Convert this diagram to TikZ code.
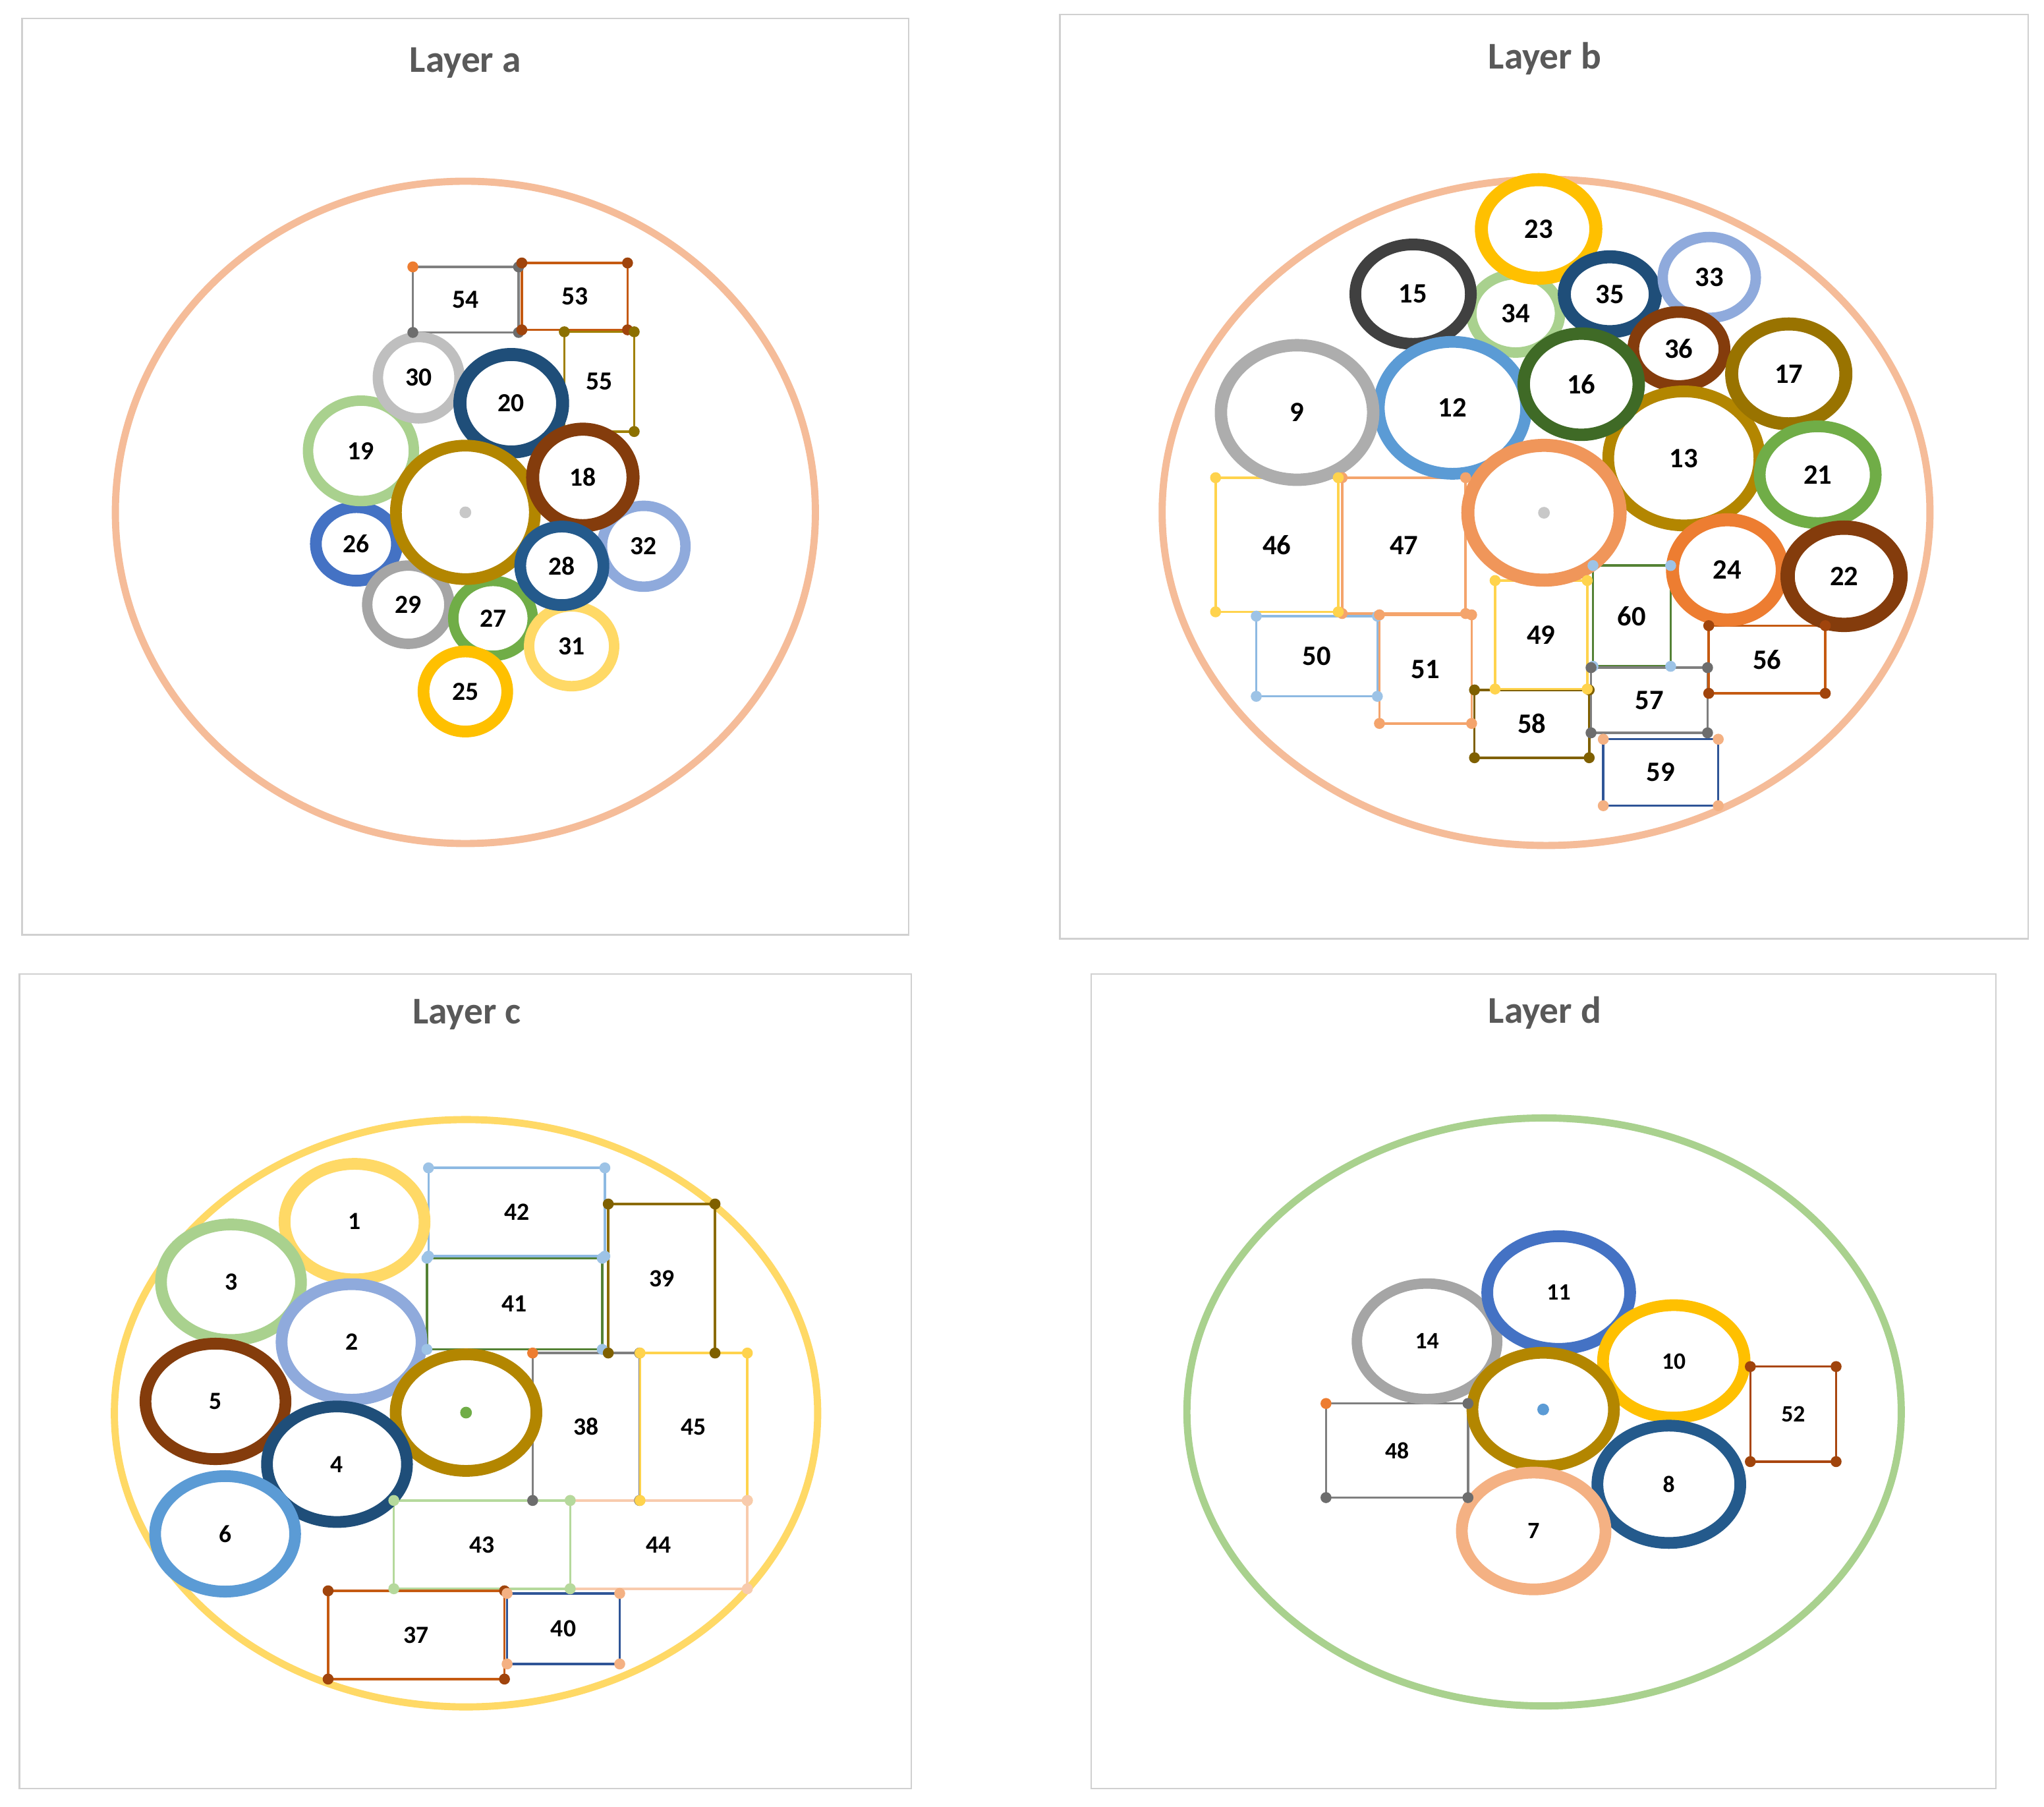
\documentclass[tikz,border=0pt]{standalone}
\usepackage{fontspec}
\setmainfont{Carlito}
\usetikzlibrary{shapes.geometric}
\definecolor{peach}{HTML}{F4B183}
\definecolor{bigpeach}{HTML}{F5BC99}
\definecolor{lpeach}{HTML}{F8CBAD}
\definecolor{goldc}{HTML}{B38600}
\definecolor{dgold}{HTML}{997300}
\definecolor{dgoldb}{HTML}{7F6000}
\definecolor{dblue}{HTML}{1F4E79}
\definecolor{dbluec}{HTML}{245A8C}
\definecolor{brownc}{HTML}{843C0C}
\definecolor{lgreen}{HTML}{A9D18E}
\definecolor{bluec}{HTML}{4472C4}
\definecolor{lblue}{HTML}{8FAADC}
\definecolor{grayc}{HTML}{A5A5A5}
\definecolor{grayb}{HTML}{ADADAD}
\definecolor{lgray}{HTML}{BFBFBF}
\definecolor{greenc}{HTML}{70AD47}
\definecolor{lyellow}{HTML}{FFD966}
\definecolor{yellowc}{HTML}{FFC000}
\definecolor{dgray}{HTML}{404040}
\definecolor{mblue}{HTML}{5B9BD5}
\definecolor{dgreen}{HTML}{3F6A26}
\definecolor{orangec}{HTML}{ED7D31}
\definecolor{corange}{HTML}{F0965A}
\definecolor{rgray}{HTML}{7F7F7F}
\definecolor{dotgray}{HTML}{6D6D6D}
\definecolor{rbrown}{HTML}{C55A11}
\definecolor{dotbrown}{HTML}{A0440C}
\definecolor{ryellow}{HTML}{FFD34D}
\definecolor{rpeach}{HTML}{F4A46C}
\definecolor{rlblue}{HTML}{8DB9E2}
\definecolor{dotlblue}{HTML}{9DC3E6}
\definecolor{rdgreen}{HTML}{548235}
\definecolor{rnavy}{HTML}{2F5597}
\definecolor{rgold}{HTML}{A08000}
\definecolor{dotgold}{HTML}{8C7000}
\definecolor{rgoldb}{HTML}{8B6B00}
\definecolor{rlgreen}{HTML}{B5D99C}
\definecolor{rbrownb}{HTML}{A9460F}
\definecolor{titlegray}{HTML}{595959}
\definecolor{framegray}{HTML}{D0D0D0}
\definecolor{cdot}{HTML}{C8C8C8}
\tikzset{
  ringnode/.style={ellipse, inner sep=0pt, outer sep=0pt, fill=white},
  rectnode/.style={rectangle, inner sep=0pt, outer sep=0pt, line width=1.8pt},
  bigring/.style={ellipse, inner sep=0pt, outer sep=0pt, line width=5.5pt},
  paneltitle/.style={text=titlegray, font=\fontsize{29}{34}\selectfont\bfseries},
  panelframe/.style={draw=framegray, line width=1.2pt},
}
\newcommand\myring[8]{\node[ringnode, draw=#7, line width=#6pt, minimum width={2*#4pt}, minimum height={2*#5pt}] (#1) at (#2,#3) {#8};}
\newcommand\myrect[7]{\node[rectnode, draw=#6, minimum width={(#4-#2)*1pt}, minimum height={(#5-#3)*1pt}] (#1) at ({(#2+#4)/2},{(#3+#5)/2}) {#7};}
\newcommand\mydot[2]{\fill[#2] (#1) circle[radius=4.2pt];}
\newcommand\mydots[5]{\mydot{#1.north west}{#2}\mydot{#1.north east}{#3}\mydot{#1.south east}{#4}\mydot{#1.south west}{#5}}
\begin{document}
\begin{tikzpicture}[x=1pt,y=-1pt]
\fill[white] (0,0) rectangle (1568,1386);
\useasboundingbox (0,0) rectangle (1568,1386);
% frames
\draw[panelframe] (17,14) rectangle (697,717);
\draw[panelframe] (813,11) rectangle (1556,720);
\draw[panelframe] (15,747) rectangle (699,1372);
\draw[panelframe] (837,747) rectangle (1531,1372);
% titles
\node[paneltitle] (ta) at (357,48) {Layer a};
\node[paneltitle] (tb) at (1185,45) {Layer b};
\node[paneltitle] (tc) at (358,778) {Layer c};
\node[paneltitle] (td) at (1185,777) {Layer d};

% ================= Layer a
\begin{scope}[every node/.append style={font=\fontsize{20}{24}\selectfont\bfseries}]
\node[bigring, draw=bigpeach, minimum width=537pt, minimum height=508pt] (ea) at (357,393) {};
\myrect{r54}{316.7}{204.7}{397.8}{255.0}{rgray}{54}
\myrect{r53}{400.3}{201.7}{481.4}{253.0}{rbrown}{53}
\myrect{r55}{432.9}{254.5}{486.5}{331.0}{rgold}{55}
\myring{c26}{273.4}{417.2}{31.1}{28.2}{9}{bluec}{26}
\myring{c19}{276.9}{345.8}{40.6}{38.5}{8}{lgreen}{19}
\myring{c30}{321.2}{289.7}{31.3}{31.2}{8}{lgray}{30}
\myring{c20}{392.2}{309.3}{39.4}{37.4}{10}{dblue}{20}
\myring{c29}{313.2}{463.8}{31.5}{30.0}{8}{grayc}{29}
\myring{c27}{378.2}{474.3}{30.5}{28.7}{8}{greenc}{27}
\myring{ca}{357}{393}{53.3}{51.2}{9}{goldc}{}
\myring{c32}{493.8}{419}{32}{31}{8}{lblue}{32}
\myring{c18}{447.1}{366.2}{38.5}{37}{10}{brownc}{18}
\myring{c31}{438.5}{495.7}{32.6}{30.6}{8}{lyellow}{31}
\myring{c28}{431}{434}{31.9}{30.1}{9}{dbluec}{28}
\myring{c25}{357}{530.4}{32.1}{30.7}{9}{yellowc}{25}
\fill[cdot] (ca.center) circle[radius=4.5pt];
\mydots{r54}{orangec}{dotgray}{dotgray}{dotgray}
\mydots{r53}{dotbrown}{dotbrown}{dotbrown}{dotbrown}
\mydot{r55.north west}{dotgold}\mydot{r55.north east}{dotgold}\mydot{r55.south east}{dotgold}
\end{scope}

% ================= Layer b
\begin{scope}[every node/.append style={font=\fontsize{21.5}{25}\selectfont\bfseries}]
\node[bigring, draw=bigpeach, minimum width=589pt, minimum height=511pt] (eb) at (1186,393) {};
\myrect{r47}{1029.6}{366.4}{1124.3}{470.6}{rpeach}{47}
\myrect{r46}{932.5}{366.4}{1026.6}{469.3}{ryellow}{46}
\myrect{r50}{963.7}{472.6}{1056.6}{534.1}{rlblue}{50}
\myrect{r51}{1058.2}{471.6}{1128.9}{554.9}{rpeach}{51}
\myrect{r58}{1131.1}{529.2}{1219.1}{581.2}{dgoldb}{58}
\myrect{r49}{1146.9}{445.3}{1217.6}{528.5}{ryellow}{49}
\myrect{r60}{1222}{433.8}{1281.6}{511.1}{rdgreen}{60}
\myrect{r57}{1220.5}{512.1}{1309.9}{562.1}{rgray}{57}
\myrect{r59}{1229.9}{567}{1318.1}{618}{rnavy}{59}
\myrect{r56}{1310.8}{479.9}{1400.2}{531.8}{rbrown}{56}
\myring{c34}{1162.7}{240.4}{34}{30}{8}{lgreen}{34}
\myring{c15}{1084}{225.6}{44.3}{38.1}{9}{dgray}{15}
\myring{c23}{1180.3}{175.6}{43.9}{37.8}{10}{yellowc}{23}
\myring{c35}{1234.9}{225.7}{34.9}{28.7}{10}{dblue}{35}
\myring{c33}{1311.2}{212.8}{35.7}{31}{8}{lblue}{33}
\myring{c36}{1287.9}{267.7}{35}{28.4}{9}{brownc}{36}
\myring{c12}{1114.2}{312.8}{56.5}{50.6}{9}{mblue}{12}
\myring{c9}{995}{316.4}{58.4}{51.6}{9.5}{grayb}{9}
\myring{c13}{1291.7}{351.6}{58}{51.4}{9}{goldc}{13}
\myring{c16}{1213}{294.7}{44.1}{38.8}{9.5}{dgreen}{16}
\myring{c17}{1372.2}{286.8}{43.8}{38.3}{10}{dgold}{17}
\myring{c21}{1394.4}{364.1}{44.5}{37.1}{9}{greenc}{21}
\myring{c24}{1325.1}{437.1}{42.1}{38.4}{10}{orangec}{24}
\myring{c22}{1414.6}{442}{43.3}{37.3}{11}{brownc}{22}
\myring{cb}{1184.4}{393.3}{58.4}{51.7}{10}{corange}{}
\fill[cdot] (cb.center) circle[radius=4.5pt];
\mydots{r47}{rpeach}{rpeach}{rpeach}{rpeach}
\mydots{r46}{ryellow}{ryellow}{ryellow}{ryellow}
\mydots{r50}{dotlblue}{dotlblue}{dotlblue}{dotlblue}
\mydots{r51}{rpeach}{rpeach}{rpeach}{rpeach}
\mydots{r58}{dgoldb}{dgoldb}{dgoldb}{dgoldb}
\mydots{r49}{ryellow}{ryellow}{ryellow}{ryellow}
\mydots{r60}{dotlblue}{dotlblue}{dotlblue}{dotlblue}
\mydots{r57}{dotgray}{dotgray}{dotgray}{dotgray}
\mydots{r59}{peach}{peach}{peach}{peach}
\mydots{r56}{dotbrown}{dotbrown}{dotbrown}{dotbrown}
\end{scope}

% ================= Layer c
\begin{scope}[every node/.append style={font=\fontsize{19}{23}\selectfont\bfseries}]
\node[bigring, draw=lyellow, line width=5.5pt, minimum width=539.5pt, minimum height=450.5pt] (ec) at (357.5,1084) {};
\myrect{r42}{328.7}{895.8}{464}{963.5}{rlblue}{42}
\myrect{r41}{327.5}{965.1}{462}{1035}{rdgreen}{41}
\myrect{r39}{466.6}{923.5}{548.5}{1037.8}{rgoldb}{39}
\myrect{r38}{408.6}{1037.8}{490.6}{1150.9}{rgray}{38}
\myrect{r45}{491}{1037.8}{573.3}{1150.9}{ryellow}{45}
\myrect{r44}{437.4}{1150.9}{573.3}{1218.6}{lpeach}{44}
\myrect{r43}{302.1}{1150.9}{437.4}{1218.6}{rlgreen}{43}
\myrect{r37}{251.7}{1220.2}{387}{1287.9}{rbrown}{37}
\myrect{r40}{389}{1222.2}{475.4}{1276.3}{rnavy}{40}
\myring{c1}{272}{937}{53.7}{44.3}{9}{lyellow}{1}
\myring{c3}{177.2}{983.5}{53.7}{44.3}{9}{lgreen}{3}
\myring{c2}{269.7}{1029.3}{53.7}{44.3}{9}{lblue}{2}
\myring{c5}{165.3}{1074.9}{53.7}{44.3}{9}{brownc}{5}
\myring{cc}{357.5}{1083.5}{54}{44.7}{9}{goldc}{}
\myring{c4}{258.5}{1123.1}{53.7}{44.3}{9}{dblue}{4}
\myring{c6}{172.7}{1176.5}{53.7}{44.3}{9}{mblue}{6}
\fill[greenc] (cc.center) circle[radius=4.5pt];
\mydots{r42}{dotlblue}{dotlblue}{dotlblue}{dotlblue}
\mydots{r41}{dotlblue}{dotlblue}{dotlblue}{dotlblue}
\mydots{r39}{dgoldb}{dgoldb}{dgoldb}{dgoldb}
\mydots{r38}{orangec}{dotgray}{dotgray}{dotgray}
\mydots{r45}{ryellow}{ryellow}{ryellow}{ryellow}
\mydots{r44}{lpeach}{lpeach}{lpeach}{lpeach}
\mydots{r43}{rlgreen}{rlgreen}{rlgreen}{rlgreen}
\mydots{r37}{dotbrown}{dotbrown}{dotbrown}{dotbrown}
\mydots{r40}{peach}{peach}{peach}{peach}
\end{scope}

% ================= Layer d
\begin{scope}[every node/.append style={font=\fontsize{18}{22}\selectfont\bfseries}]
\node[bigring, draw=lgreen, minimum width=548pt, minimum height=451pt] (ed) at (1184.5,1083) {};
\myrect{r48}{1017.2}{1076.5}{1126.1}{1148.7}{rgray}{48}
\myrect{r52}{1342.7}{1048.2}{1408.5}{1121.1}{rbrownb}{52}
\myring{c14}{1094.7}{1028.8}{53.8}{44.3}{8}{grayc}{14}
\myring{c11}{1195.7}{991.4}{54.8}{43.2}{9}{bluec}{11}
\myring{c10}{1284}{1044.2}{54.3}{43.1}{9}{yellowc}{10}
\myring{cd}{1183.8}{1081.1}{54.3}{43.5}{9}{goldc}{}
\myring{c8}{1280.2}{1138.5}{54.8}{45}{9}{dbluec}{8}
\myring{c7}{1176.5}{1174.3}{55.1}{44.8}{9}{peach}{7}
\fill[mblue] (cd.center) circle[radius=4.5pt];
\mydots{r48}{orangec}{dotgray}{dotgray}{dotgray}
\mydots{r52}{dotbrown}{dotbrown}{dotbrown}{dotbrown}
\end{scope}
\end{tikzpicture}
\end{document}
